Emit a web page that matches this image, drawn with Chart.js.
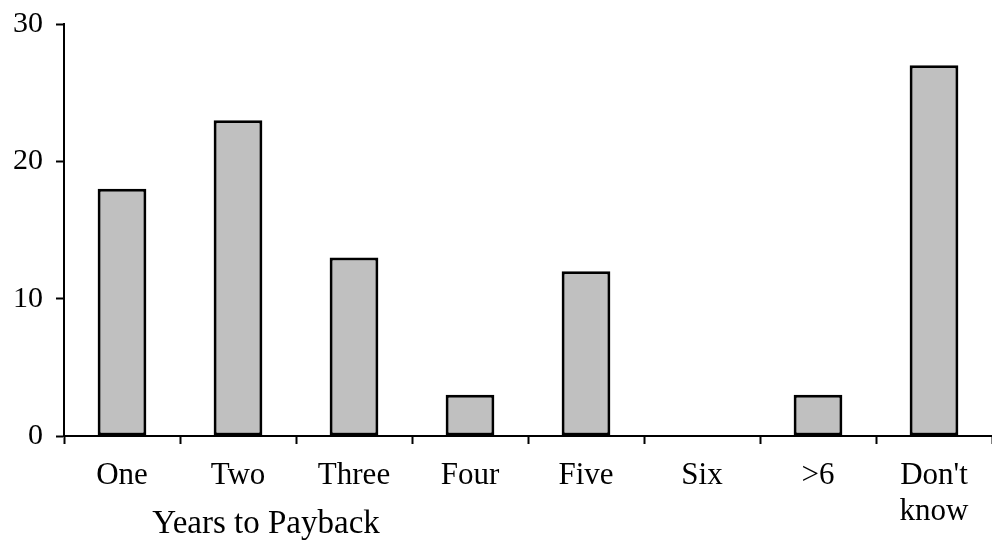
<!DOCTYPE html>
<html>
<head>
<meta charset="utf-8">
<script src="https://cdn.jsdelivr.net/npm/chart.js@4.4.0/dist/chart.umd.min.js"></script>
<style>
  html, body { margin: 0; padding: 0; background: #fff; }
  #grafica { display: block; }
</style>
</head>
<body>
<canvas id="grafica" width="992" height="541"></canvas>
<script>
// datos del grafico
const categorias = ["One", "Two", "Three", "Four", "Five", "Six", ">6", ["Don't", "know"]];
const valores = [18, 23, 13, 3, 12, 0, 3, 27];
const ticksY = [0, 10, 20, 30];
const tituloX = "Years to Payback";

const familia = "'Liberation Serif', 'Times New Roman', serif";
const fuenteX = { family: familia, size: 31, lineHeight: 1.15 };
const fuenteY = { family: familia, size: 30 };

// titulo del eje x, va corrido a la izquierda como en el original
const pluginTitulo = {
    id: "tituloEjeX",
    afterDraw(chart) {
        const ctx = chart.ctx;
        ctx.save();
        ctx.font = `33px ${familia}`;
        ctx.fillStyle = "#000";
        ctx.textAlign = "center";
        ctx.textBaseline = "middle";
        ctx.fillText(tituloX, chart.chartArea.left + 202, 524);
        ctx.restore();
    }
};

const ctx = document.getElementById("grafica").getContext("2d");
new Chart(ctx, {
    type: "bar",
    data: {
        labels: categorias,
        datasets: [{
            data: valores,
            backgroundColor: "#c0c0c0",
            borderColor: "#000",
            borderWidth: 3,
            borderSkipped: false,
            categoryPercentage: 1,
            barPercentage: 0.42
        }]
    },
    options: {
        responsive: false,
        animation: false,
        layout: { padding: { top: 24, right: 0, left: 0, bottom: 0 } },
        plugins: { legend: { display: false }, tooltip: { enabled: false } },
        scales: {
            x: {
                offset: true,
                grid: { offset: true, drawOnChartArea: false, tickLength: 8, tickWidth: 2, color: "#000" },
                border: { color: "#000", width: 2 },
                ticks: { color: "#000", font: fuenteX, padding: 14, maxRotation: 0, autoSkip: false },
                afterFit(scale) { scale.height = 105; scale.paddingLeft = 0; scale.paddingRight = 0; }
            },
            y: {
                min: 0,
                max: 30,
                afterBuildTicks(scale) { scale.ticks = ticksY.map(v => ({ value: v })); },
                grid: { drawOnChartArea: false, tickLength: 8, tickWidth: 2, color: "#000" },
                border: { color: "#000", width: 2 },
                ticks: { color: "#000", font: fuenteY, padding: 13 },
                afterFit(scale) { scale.width = 64; scale.paddingTop = 0; scale.paddingBottom = 0; }
            }
        }
    },
    plugins: [pluginTitulo]
});
</script>
</body>
</html>
